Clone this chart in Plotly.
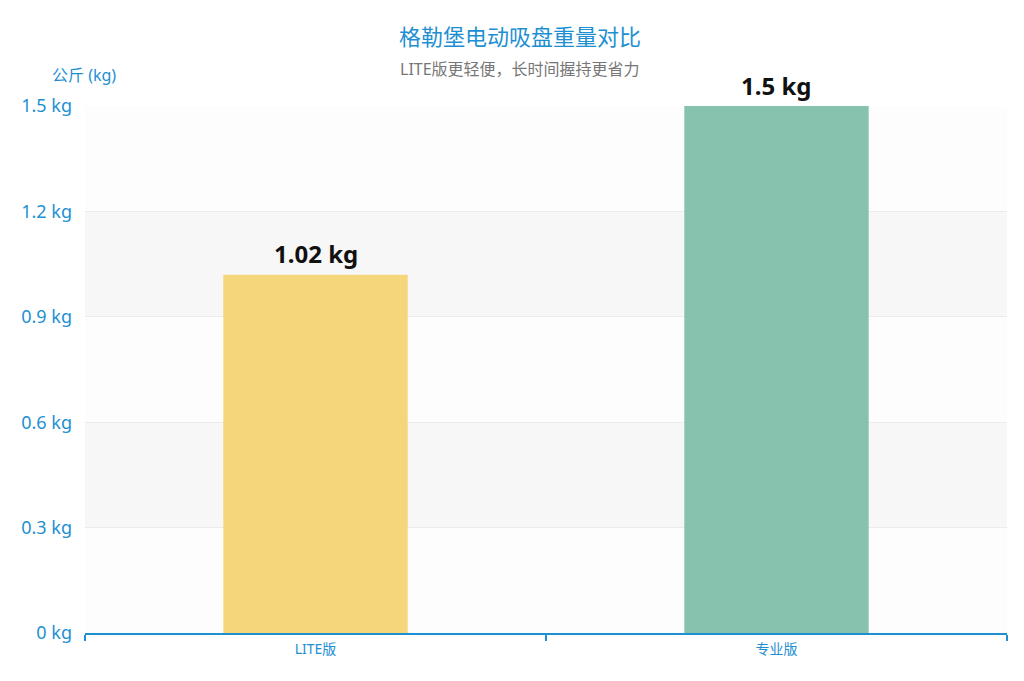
import plotly.graph_objects as go

categories = ["LITE版", "专业版"]
weights = [1.02, 1.5]
bar_colors = ["#f5d67a", "#86c2ad"]
y_ticks = [0, 0.3, 0.6, 0.9, 1.2, 1.5]
y_tick_labels = ["0 kg", "0.3 kg", "0.6 kg", "0.9 kg", "1.2 kg", "1.5 kg"]

BLUE = "#1e90d2"
FONT = "Noto Sans, Noto Sans CJK SC"
W, H = 1024, 681
ML, MR, MT, MB = 77, 25, 98, 56

fig = go.Figure()
fig.add_trace(go.Bar(
    x=categories, y=weights, marker=dict(color=bar_colors, line=dict(width=0)),
    width=0.4, hoverinfo="skip",
))

band_colors = ["#fdfdfd", "#f7f7f7"]
for i in range(len(y_ticks) - 1):
    fig.add_shape(type="rect", xref="paper", yref="y", x0=0, x1=1,
                  y0=y_ticks[i], y1=y_ticks[i + 1],
                  fillcolor=band_colors[i % 2], line=dict(width=0), layer="below")

center_paper_x = (W / 2 - ML) / (W - ML - MR)
annotations = [
    dict(text="LITE版更轻便，长时间握持更省力", xref="paper", yref="paper",
         x=center_paper_x, y=1, xanchor="center", yanchor="middle", yshift=37,
         showarrow=False, font=dict(family=FONT, size=16, color="#777777")),
    dict(text="公斤 (kg)", xref="paper", yref="paper", x=0, y=1,
         xanchor="center", yanchor="middle", xshift=-1, yshift=31,
         showarrow=False, font=dict(family=FONT, size=16, color=BLUE)),
]
for c, v in zip(categories, weights):
    annotations.append(dict(
        x=c, y=v, xref="x", yref="y", text=f"<b>{v:g} kg</b>", showarrow=False,
        yanchor="middle", yshift=21, font=dict(family=FONT, size=24, color="#111111"),
    ))

fig.update_layout(
    width=W, height=H,
    margin=dict(l=ML, r=MR, t=MT, b=MB),
    paper_bgcolor="white", plot_bgcolor="white",
    font=dict(family=FONT),
    showlegend=False,
    title=dict(text="格勒堡电动吸盘重量对比", x=0.5, xref="container", xanchor="center",
               yref="container", y=1 - 29 / H, yanchor="middle",
               font=dict(family=FONT, size=22, color=BLUE)),
    bargap=0.6,
    annotations=annotations,
)
fig.update_xaxes(
    type="category", showline=True, linecolor=BLUE, linewidth=2,
    ticks="outside", tickson="boundaries", ticklen=6, tickcolor=BLUE, tickwidth=1.5,
    tickfont=dict(family=FONT, size=14, color=BLUE), showgrid=False,
    ticklabelstandoff=2,
)
fig.update_yaxes(
    range=[0, 1.5], tickvals=y_ticks, ticktext=y_tick_labels,
    tickfont=dict(family=FONT, size=18, color=BLUE), ticks="", ticklabelstandoff=12,
    showgrid=True, gridcolor="#ebebeb", gridwidth=1, zeroline=False, showline=False,
)
fig.write_html("out.html")
